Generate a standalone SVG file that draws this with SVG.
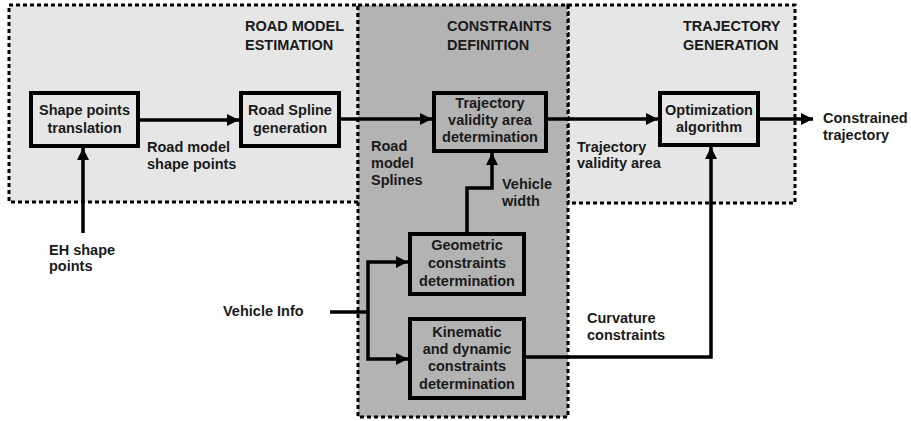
<svg xmlns="http://www.w3.org/2000/svg" width="911" height="421" viewBox="0 0 911 421">
<style>
text{font-family:"Liberation Sans",Arial,sans-serif;font-weight:bold;font-size:14.5px;fill:#1a1a1a}
.c{text-anchor:middle}
.reg{stroke:#000;stroke-width:3;stroke-dasharray:4 3}
.node rect{stroke:#000;stroke-width:4}
.lt{fill:#e6e6e6}
.dk{fill:#b3b3b3}
.conn{fill:none;stroke:#000;stroke-width:3.5}
</style>
<defs>
<marker id="ah" markerUnits="userSpaceOnUse" markerWidth="12" markerHeight="12" refX="12" refY="6" orient="auto">
<path d="M0,0 L12,6 L0,12 z" fill="#000"/>
</marker>
</defs>
<rect width="911" height="421" fill="#fff"/>
<g id="regions">
<rect class="reg lt" x="9" y="5" width="349" height="197"/>
<rect class="reg lt" x="568" y="5" width="227" height="198"/>
<rect class="reg dk" x="358" y="5" width="210" height="412"/>
<text x="245" y="31">ROAD MODEL</text>
<text x="245" y="50">ESTIMATION</text>
<text x="447" y="31">CONSTRAINTS</text>
<text x="447" y="50">DEFINITION</text>
<text x="683" y="31">TRAJECTORY</text>
<text x="683" y="50">GENERATION</text>
</g>
<g id="connectors">
<line class="conn" x1="140" y1="120" x2="239" y2="120" marker-end="url(#ah)"/>
<line class="conn" x1="341" y1="119" x2="432" y2="119" marker-end="url(#ah)"/>
<line class="conn" x1="548" y1="119" x2="658" y2="119" marker-end="url(#ah)"/>
<line class="conn" x1="760" y1="119" x2="813" y2="119" marker-end="url(#ah)"/>
<line class="conn" x1="83" y1="233" x2="83" y2="148" marker-end="url(#ah)"/>
<polyline class="conn" points="467,232 467,188 492,188 492,153" marker-end="url(#ah)"/>
<line class="conn" x1="330" y1="312" x2="368" y2="312"/>
<polyline class="conn" points="368,312 368,262 408,262" marker-end="url(#ah)"/>
<polyline class="conn" points="368,312 368,359 408,359" marker-end="url(#ah)"/>
<polyline class="conn" points="526,357 711,357 711,147" marker-end="url(#ah)"/>
<text x="147" y="152">Road model</text>
<text x="147" y="169">shape points</text>
<text x="371" y="151">Road</text>
<text x="371" y="168">model</text>
<text x="371" y="185">Splines</text>
<text x="502" y="189">Vehicle</text>
<text x="502" y="206">width</text>
<text x="577" y="152">Trajectory</text>
<text x="577" y="168">validity area</text>
<text x="823" y="123">Constrained</text>
<text x="823" y="140">trajectory</text>
<text x="49" y="255">EH shape</text>
<text x="49" y="271">points</text>
<text x="223" y="316">Vehicle Info</text>
<text x="587" y="323">Curvature</text>
<text x="587" y="340">constraints</text>
</g>
<g id="n1" class="node">
<rect class="lt" x="31" y="93" width="107" height="53"/>
<text class="c" x="84.5" y="115">Shape points</text>
<text class="c" x="84.5" y="133">translation</text>
</g>
<g id="n2" class="node">
<rect class="lt" x="241" y="93" width="98" height="53"/>
<text class="c" x="290" y="115">Road Spline</text>
<text class="c" x="290" y="133">generation</text>
</g>
<g id="n3" class="node">
<rect class="dk" x="434" y="93" width="112" height="58"/>
<text class="c" x="490" y="108">Trajectory</text>
<text class="c" x="490" y="125">validity area</text>
<text class="c" x="490" y="142">determination</text>
</g>
<g id="n4" class="node">
<rect class="lt" x="660" y="93" width="98" height="52"/>
<text class="c" x="709" y="115">Optimization</text>
<text class="c" x="709" y="132">algorithm</text>
</g>
<g id="n5" class="node">
<rect class="dk" x="410" y="234" width="114" height="60"/>
<text class="c" x="467" y="250">Geometric</text>
<text class="c" x="467" y="268">constraints</text>
<text class="c" x="467" y="286">determination</text>
</g>
<g id="n6" class="node">
<rect class="dk" x="410" y="319" width="114" height="79"/>
<text class="c" x="467" y="337">Kinematic</text>
<text class="c" x="467" y="354">and dynamic</text>
<text class="c" x="467" y="371">constraints</text>
<text class="c" x="467" y="389">determination</text>
</g>
</svg>
